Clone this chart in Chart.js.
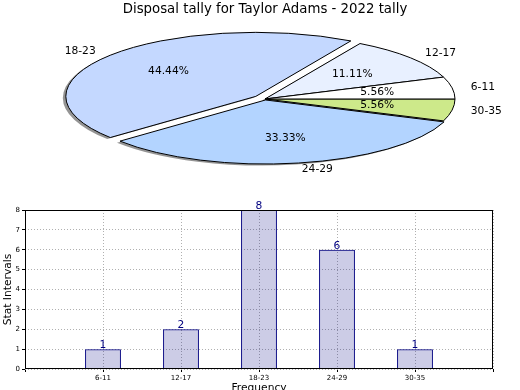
<!DOCTYPE html>
<html>
<head>
<meta charset="utf-8">
<script src="https://cdn.jsdelivr.net/npm/chart.js@4.4.1/dist/chart.umd.min.js"></script>
<style>
  html, body { margin: 0; padding: 0; background: #fff; overflow: hidden; }
  body { width: 520px; height: 390px; position: relative; }
  canvas { position: absolute; left: 0; }
  #pie { top: 0; }
  #bars { top: 195px; }
</style>
</head>
<body>
<canvas id="pie" width="520" height="195"></canvas>
<canvas id="bars" width="520" height="200"></canvas>
<script>
// chart data
var categories = ['6-11', '12-17', '18-23', '24-29', '30-35'];
var counts = [1, 2, 8, 6, 1];
var yTicks = [0, 1, 2, 3, 4, 5, 6, 7, 8];
var chartTitle = 'Disposal tally for Taylor Adams - 2022 tally';

// look
var sliceColors = ['#ffffff', '#e8f0ff', '#c4d8ff', '#b3d4ff', '#cde98a'];
var explode = [0, 0, 12, 3, 0];   // px along the slice middle
var squash = 0.337;               // ellipse height / width
var shadowColor = 'rgba(0,0,0,0.42)';

Chart.defaults.font.family = 'DejaVu Sans';
Chart.defaults.color = '#000';

var total = counts.reduce(function (s, v) { return s + v; }, 0);
// the pie runs counter-clockwise from 3 o'clock, chart.js runs clockwise,
// so feed it the slices backwards
var order = categories.map(function (c, i) { return categories.length - 1 - i; });

function sliceShift(a, idx) {
    var mid = (a.startAngle + a.endAngle) / 2;
    return { mid: mid, dx: Math.cos(mid) * explode[idx], dy: Math.sin(mid) * explode[idx] };
}

function flatten(ctx, a) {
    ctx.translate(a.x, a.y);
    ctx.scale(1, squash);
    ctx.translate(-a.x, -a.y);
}

var ellipsePie = {
    id: 'ellipsePie',
    beforeDatasetDraw: function (chart, args) {
        var ctx = chart.ctx;
        var arcs = args.meta.data;
        var base = ctx.getTransform();

        // shadows first, all under the slices
        arcs.forEach(function (a, j) {
            var s = sliceShift(a, order[j]);
            var saved = a.options;
            ctx.save();
            ctx.translate(-3, 1.5);
            flatten(ctx, a);
            ctx.translate(s.dx, s.dy);
            a.options = Object.assign({}, saved, { backgroundColor: shadowColor, borderWidth: 0 });
            a.draw(ctx);
            a.options = saved;
            ctx.restore();
        });

        // slices, with the outline stroked in flat space so it keeps 1px
        arcs.forEach(function (a, j) {
            var s = sliceShift(a, order[j]);
            ctx.save();
            flatten(ctx, a);
            ctx.translate(s.dx, s.dy);
            ctx.stroke = function () {
                this.save();
                this.setTransform(base);
                CanvasRenderingContext2D.prototype.stroke.call(this);
                this.restore();
            };
            a.draw(ctx);
            delete ctx.stroke;
            ctx.restore();
        });
        return false;
    },
    afterDatasetsDraw: function (chart) {
        var ctx = chart.ctx;
        var arcs = chart.getDatasetMeta(0).data;
        ctx.save();
        ctx.fillStyle = '#000';
        ctx.font = '10.7px "DejaVu Sans"';
        ctx.textBaseline = 'middle';
        arcs.forEach(function (a, j) {
            var idx = order[j];
            var s = sliceShift(a, idx);
            var r = a.outerRadius;
            var cx = a.x + s.dx, cy = a.y + s.dy * squash;
            var c = Math.cos(s.mid), sn = Math.sin(s.mid);

            ctx.textAlign = c > 0 ? 'left' : 'right';
            ctx.fillText(categories[idx], cx + c * r * 1.1, cy + sn * r * 1.1 * squash);

            ctx.textAlign = 'center';
            var pct = (counts[idx] / total * 100).toFixed(2) + '%';
            ctx.fillText(pct, cx + c * r * 0.6, cy + sn * r * 0.6 * squash);
        });
        ctx.restore();
    }
};

new Chart(document.getElementById('pie'), {
    type: 'pie',
    data: {
        labels: order.map(function (i) { return categories[i]; }),
        datasets: [{
            data: order.map(function (i) { return counts[i]; }),
            backgroundColor: order.map(function (i) { return sliceColors[i]; }),
            borderColor: '#000',
            borderWidth: 1,
            borderAlign: 'center',
            clip: false
        }]
    },
    options: {
        responsive: false,
        animation: false,
        rotation: 90,
        radius: 190,
        layout: { padding: { left: 10, bottom: 25 } },
        plugins: {
            legend: { display: false },
            tooltip: { enabled: false },
            title: {
                display: true,
                text: chartTitle,
                color: '#000',
                font: { size: 13.3, weight: 'normal' },
                padding: { top: 2, bottom: 10 }
            }
        }
    },
    plugins: [ellipsePie]
});

var barExtras = {
    id: 'barExtras',
    afterDatasetsDraw: function (chart) {
        var ctx = chart.ctx;
        var area = chart.chartArea;
        ctx.save();
        ctx.strokeStyle = '#000';
        ctx.lineWidth = 1;
        ctx.strokeRect(Math.round(area.left) + 0.5, Math.round(area.top) + 0.5,
            Math.round(area.right - area.left) - 1, Math.round(area.bottom - area.top) - 1);

        ctx.fillStyle = '#000080';
        ctx.font = '10.7px "DejaVu Sans"';
        ctx.textAlign = 'center';
        ctx.textBaseline = 'alphabetic';
        chart.getDatasetMeta(0).data.forEach(function (bar, i) {
            ctx.fillText(String(counts[i]), bar.x, bar.y - 1);
        });
        ctx.restore();
    }
};

new Chart(document.getElementById('bars'), {
    type: 'bar',
    data: {
        datasets: [{
            data: counts.map(function (v, i) { return { x: i + 1, y: v }; }),
            backgroundColor: 'rgba(0,0,128,0.2)',
            borderColor: '#000080',
            borderWidth: 1,
            barPercentage: 0.46,
            categoryPercentage: 1
        }]
    },
    options: {
        responsive: false,
        animation: false,
        layout: { padding: { top: 15, right: 27, left: 2, bottom: 0 } },
        plugins: {
            legend: { display: false },
            tooltip: { enabled: false }
        },
        scales: {
            x: {
                type: 'linear',
                offset: false,
                min: 0,
                max: categories.length + 1,
                afterBuildTicks: function (scale) {
                    var t = [{ value: 0 }];
                    categories.forEach(function (c, i) { t.push({ value: i + 1 }); });
                    t.push({ value: categories.length + 1 });
                    scale.ticks = t;
                },
                ticks: {
                    autoSkip: false,
                    maxRotation: 0,
                    padding: 2,
                    font: { size: 7 },
                    callback: function (v) { return categories[v - 1] || ''; }
                },
                grid: { offset: false, color: '#b0b0b0', tickColor: '#000', tickLength: 3 },
                border: { display: false, dash: [1, 2] },
                title: { display: true, text: 'Frequency', font: { size: 10.7 }, padding: 0 },
                afterFit: function (scale) { scale.height = 26; }
            },
            y: {
                min: yTicks[0],
                max: yTicks[yTicks.length - 1],
                afterBuildTicks: function (scale) {
                    scale.ticks = yTicks.map(function (v) { return { value: v }; });
                },
                ticks: { padding: 2, font: { size: 7 } },
                grid: { color: '#b0b0b0', tickColor: '#000', tickLength: 3 },
                border: { display: false, dash: [1, 2] },
                title: { display: true, text: 'Stat Intervals', font: { size: 10.7 }, padding: 0 },
                afterFit: function (scale) { scale.width = 23; }
            }
        }
    },
    plugins: [barExtras]
});
</script>
</body>
</html>
